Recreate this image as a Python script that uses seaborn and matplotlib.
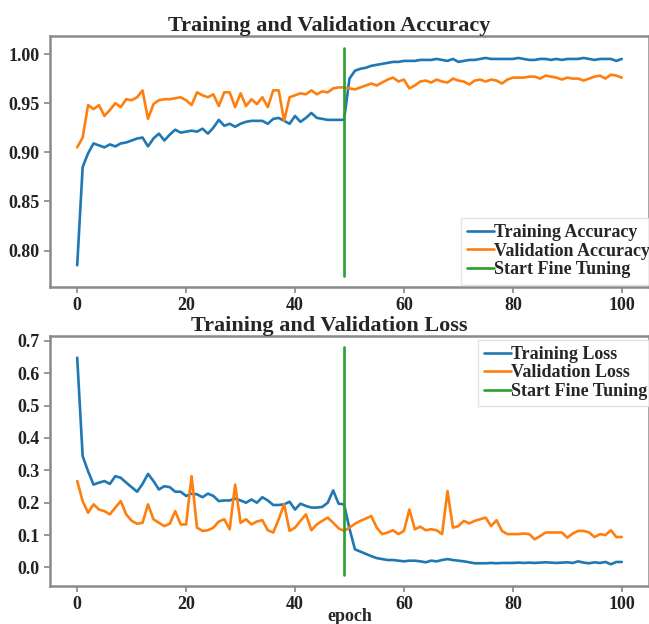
import matplotlib
matplotlib.use("Agg")
import matplotlib.pyplot as plt
import seaborn as sns
import pandas as pd

epochs = list(range(101))
fine_tune_epoch = 49

train_acc = [0.785, 0.885, 0.899, 0.909, 0.907, 0.905, 0.908, 0.906, 0.909, 0.910,
             0.912, 0.914, 0.915, 0.906, 0.914, 0.919, 0.912, 0.918, 0.923, 0.920,
             0.921, 0.922, 0.921, 0.924, 0.919, 0.925, 0.933, 0.927, 0.929, 0.926,
             0.929, 0.931, 0.932, 0.932, 0.932, 0.929, 0.934, 0.935, 0.932, 0.929,
             0.937, 0.931, 0.935, 0.940, 0.935, 0.934, 0.933, 0.933, 0.933, 0.933,
             0.975, 0.983, 0.985, 0.986, 0.988, 0.989, 0.990, 0.991, 0.992, 0.992,
             0.993, 0.993, 0.993, 0.994, 0.994, 0.994, 0.995, 0.994, 0.993, 0.995,
             0.992, 0.993, 0.994, 0.994, 0.995, 0.996, 0.995, 0.995, 0.995, 0.995,
             0.995, 0.996, 0.995, 0.994, 0.994, 0.995, 0.995, 0.994, 0.995, 0.994,
             0.995, 0.995, 0.995, 0.996, 0.995, 0.994, 0.995, 0.995, 0.995, 0.993,
             0.995]

val_acc = [0.905, 0.915, 0.948, 0.944, 0.948, 0.937, 0.943, 0.950, 0.946, 0.954,
           0.953, 0.956, 0.963, 0.934, 0.949, 0.953, 0.954, 0.954, 0.955, 0.956,
           0.953, 0.948, 0.961, 0.958, 0.956, 0.959, 0.947, 0.961, 0.961, 0.946,
           0.960, 0.947, 0.954, 0.949, 0.956, 0.946, 0.963, 0.963, 0.932, 0.956,
           0.958, 0.960, 0.959, 0.963, 0.959, 0.962, 0.961, 0.965, 0.966, 0.966,
           0.965, 0.964, 0.966, 0.968, 0.970, 0.968, 0.971, 0.974, 0.976, 0.972,
           0.974, 0.965, 0.968, 0.972, 0.973, 0.971, 0.974, 0.972, 0.971, 0.975,
           0.973, 0.972, 0.969, 0.973, 0.974, 0.972, 0.974, 0.973, 0.970, 0.974,
           0.976, 0.976, 0.976, 0.977, 0.977, 0.975, 0.978, 0.977, 0.976, 0.974,
           0.976, 0.975, 0.975, 0.973, 0.975, 0.977, 0.978, 0.975, 0.979, 0.978,
           0.976]

train_loss = [0.648, 0.344, 0.297, 0.256, 0.262, 0.267, 0.258, 0.282, 0.277, 0.262,
              0.248, 0.234, 0.258, 0.289, 0.267, 0.241, 0.251, 0.248, 0.234, 0.234,
              0.221, 0.228, 0.226, 0.217, 0.228, 0.221, 0.205, 0.207, 0.207, 0.213,
              0.207, 0.200, 0.210, 0.200, 0.217, 0.207, 0.193, 0.193, 0.195, 0.203,
              0.179, 0.197, 0.190, 0.185, 0.185, 0.187, 0.200, 0.238, 0.197, 0.195,
              0.120, 0.056, 0.049, 0.042, 0.035, 0.029, 0.026, 0.023, 0.023, 0.021,
              0.019, 0.021, 0.021, 0.019, 0.016, 0.021, 0.019, 0.023, 0.026, 0.023,
              0.021, 0.019, 0.016, 0.013, 0.013, 0.013, 0.014, 0.013, 0.014, 0.014,
              0.014, 0.015, 0.014, 0.015, 0.014, 0.015, 0.016, 0.015, 0.014, 0.015,
              0.016, 0.014, 0.019, 0.015, 0.013, 0.016, 0.014, 0.017, 0.010, 0.017,
              0.017]

val_loss = [0.267, 0.205, 0.169, 0.195, 0.179, 0.174, 0.164, 0.185, 0.205, 0.164,
            0.144, 0.135, 0.138, 0.195, 0.149, 0.138, 0.128, 0.135, 0.174, 0.133,
            0.133, 0.282, 0.123, 0.113, 0.115, 0.123, 0.142, 0.149, 0.118, 0.256,
            0.138, 0.149, 0.133, 0.142, 0.146, 0.115, 0.108, 0.149, 0.195, 0.113,
            0.123, 0.144, 0.164, 0.115, 0.133, 0.144, 0.154, 0.138, 0.121, 0.113,
            0.123, 0.135, 0.144, 0.151, 0.159, 0.123, 0.103, 0.108, 0.115, 0.103,
            0.113, 0.179, 0.118, 0.126, 0.115, 0.118, 0.115, 0.103, 0.236, 0.123,
            0.128, 0.144, 0.136, 0.144, 0.149, 0.154, 0.128, 0.146, 0.113, 0.103,
            0.103, 0.103, 0.105, 0.103, 0.087, 0.097, 0.108, 0.108, 0.108, 0.108,
            0.092, 0.105, 0.113, 0.113, 0.108, 0.094, 0.103, 0.100, 0.115, 0.094,
            0.094]

sns.set_style("ticks")
plt.rcParams["font.family"] = ["Liberation Serif", "DejaVu Serif"]
plt.rcParams["font.weight"] = "bold"

df = pd.DataFrame({"epoch": epochs, "train_acc": train_acc, "val_acc": val_acc,
                   "train_loss": train_loss, "val_loss": val_loss})

fig = plt.figure(figsize=(6.49, 6.24), dpi=100)
ax1 = fig.add_axes([0.077, 0.540, 0.923, 0.402])
ax2 = fig.add_axes([0.077, 0.061, 0.923, 0.4006])

blue, orange, green = "#1f77b4", "#ff7f0e", "#2ca02c"
lw = 1.9

for ax, (c1, l1), (c2, l2), title, loc, anchor in [
    (ax1, ("train_acc", "Training Accuracy"), ("val_acc", "Validation Accuracy"),
     "Training and Validation Accuracy", "lower left", (0.686, 0.01)),
    (ax2, ("train_loss", "Training Loss"), ("val_loss", "Validation Loss"),
     "Training and Validation Loss", "upper left", (0.714, 0.985)),
]:
    sns.lineplot(data=df, x="epoch", y=c1, ax=ax, color=blue, lw=lw, label=l1)
    sns.lineplot(data=df, x="epoch", y=c2, ax=ax, color=orange, lw=lw, label=l2)
    ylim = ax.get_ylim()
    ax.plot([fine_tune_epoch, fine_tune_epoch], ylim, color=green, lw=lw,
            label="Start Fine Tuning")
    ax.set_ylabel("")
    ax.set_xlabel("")
    ax.set_title(title, fontsize=16, fontweight="bold", pad=3, x=0.466)
    leg = ax.legend(loc=loc, bbox_to_anchor=anchor, fontsize=13, frameon=True,
                    handlelength=1.5, handletextpad=0.0, labelspacing=0.08,
                    borderpad=0.35, borderaxespad=0.0, fancybox=False)
    leg.get_frame().set_edgecolor("#dddddd")
    leg.get_frame().set_linewidth(1.0)
    for t in leg.get_texts():
        t.set_fontweight("bold")
    for sp in ax.spines.values():
        sp.set_color("#8a8a8a")
        sp.set_linewidth(1.8)
    ax.tick_params(colors="#888888", labelcolor="#222222", labelsize=13,
                   width=1.2, length=4)

ax1.set_yticks([0.80, 0.85, 0.90, 0.95, 1.00])
ax1.set_yticklabels(["0.80", "0.85", "0.90", "0.95", "1.00"], fontweight="bold")
ax2.set_yticks([0.0, 0.1, 0.2, 0.3, 0.4, 0.5, 0.6, 0.7])
ax2.set_yticklabels(["0.0", "0.1", "0.2", "0.3", "0.4", "0.5", "0.6", "0.7"], fontweight="bold")
for ax in (ax1, ax2):
    ax.set_xticks([0, 20, 40, 60, 80, 100])
    ax.set_xticklabels(["0", "20", "40", "60", "80", "100"], fontweight="bold")
ax2.set_xlabel("epoch", fontsize=13, fontweight="bold", labelpad=-4)

fig.savefig("out.png", dpi=100)
